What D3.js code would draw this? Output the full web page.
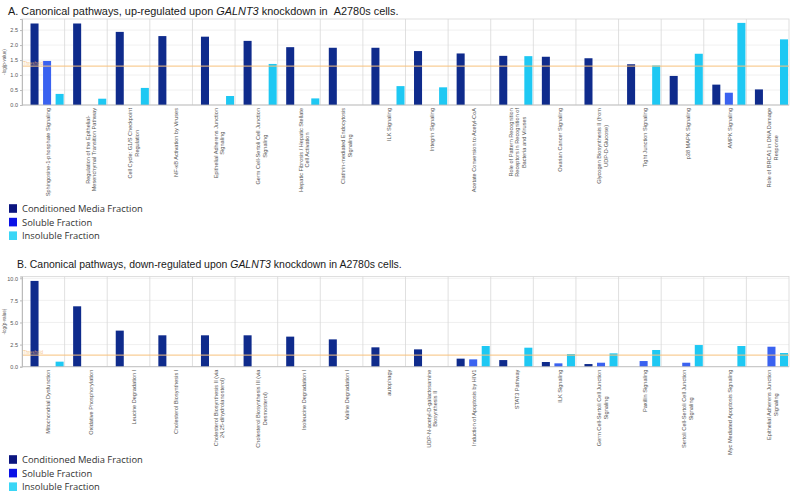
<!DOCTYPE html>
<html><head><meta charset="utf-8">
<script src="https://cdn.jsdelivr.net/npm/d3@7"></script>
<style>body{margin:0;background:#fff;} svg{display:block;}</style>
</head><body>
<svg id="chart" width="800" height="495"></svg>
<script>
// ---------- DATA ----------
const seriesNames = ["Conditioned Media Fraction", "Soluble Fraction", "Insoluble Fraction"];

const catsA = [
  "Sphingosine-1-phosphate Signaling",
  "Regulation of the Epithelial-\nMesenchymal Transition Pathway",
  "Cell Cycle: G1/S Checkpoint\nRegulation",
  "NF-κB Activation by Viruses",
  "Epithelial Adherens Junction\nSignaling",
  "Germ Cell-Sertoli Cell Junction\nSignaling",
  "Hepatic Fibrosis / Hepatic Stellate\nCell Activation",
  "Clathrin-mediated Endocytosis\nSignaling",
  "ILK Signaling",
  "Integrin Signaling",
  "Acetate Conversion to Acetyl-CoA",
  "Role of Pattern Recognition\nReceptors in Recognition of\nBacteria and Viruses",
  "Ovarian Cancer Signaling",
  "Glycogen Biosynthesis II (from\nUDP-D-Glucose)",
  "Tight Junction Signaling",
  "p38 MAPK Signaling",
  "AMPK Signaling",
  "Role of BRCA1 in DNA Damage\nResponse"
];
const condA  = [2.72, 2.72, 2.44, 2.30, 2.28, 2.14, 1.93, 1.91, 1.91, 1.80, 1.72, 1.64, 1.61, 1.56, 1.36, 0.97, 0.68, 0.52];
const solA   = [1.47, 0, 0, 0, 0, 0, 0, 0, 0, 0, 0, 0, 0, 0, 0, 0, 0.41, 0];
const insolA = [0.37, 0.21, 0.57, 0, 0.30, 1.37, 0.22, 0, 0.63, 0.59, 0, 1.63, 0, 0, 1.32, 1.71, 2.74, 2.19];
const ticksA = [0, 0.5, 1.0, 1.5, 2.0, 2.5];

const catsB = [
  "Mitochondrial Dysfunction",
  "Oxidative Phosphorylation",
  "Leucine Degradation I",
  "Cholesterol Biosynthesis I",
  "Cholesterol Biosynthesis II (via\n24,25-dihydrolanosterol)",
  "Cholesterol Biosynthesis III (via\nDesmosterol)",
  "Isoleucine Degradation I",
  "Valine Degradation I",
  "autophagy",
  "UDP-N-acetyl-D-galactosamine\nBiosynthesis II",
  "Induction of Apoptosis by HIV1",
  "STAT3 Pathway",
  "ILK Signaling",
  "Germ Cell-Sertoli Cell Junction\nSignaling",
  "Paxillin Signaling",
  "Sertoli Cell-Sertoli Cell Junction\nSignaling",
  "Myc Mediated Apoptosis Signaling",
  "Epithelial Adherens Junction\nSignaling"
];
const condB  = [9.70, 6.83, 4.08, 3.55, 3.55, 3.55, 3.40, 3.09, 2.19, 1.96, 0.91, 0.75, 0.53, 0.30, 0, 0, 0, 0];
const solB   = [0, 0, 0, 0, 0, 0, 0, 0, 0, 0, 0.83, 0, 0.38, 0.45, 0.64, 0.45, 0, 2.26];
const insolB = [0.57, 0, 0, 0, 0, 0, 0, 0, 0, 0, 2.34, 2.15, 1.43, 1.51, 1.89, 2.45, 2.34, 1.55];
const ticksB = [0, 2.5, 5.0, 7.5, 10.0];

const threshold = 1.3;

// ---------- STYLE ----------
const barColors = ["#0f2b8c", "#3a62f0", "#1ec8f3"];
const legendColors = ["#0b1580", "#0a12e6", "#3ad6f6"];

const svg = d3.select("#chart");

function drawPanel(o) {
  const g = svg.append("g");
  const x0 = d3.scaleBand().domain(d3.range(o.cats.length)).range([o.left, o.right]).paddingInner(0).paddingOuter(0);
  const gw = x0.bandwidth();
  const x1 = d3.scaleBand().domain(seriesNames).range([gw * 0.147, gw * 1.03]).paddingInner(0.36).paddingOuter(0.18);
  const y = d3.scaleLinear().domain([0, o.ymax]).range([o.bottom, o.top]);

  // title
  const t = g.append("text").attr("x", o.titleX).attr("y", o.titleY)
    .attr("font-family", "Liberation Sans, Arial, sans-serif").attr("font-size", 12).attr("fill", "#1a1a1a");
  t.append("tspan").text(o.titlePre);
  t.append("tspan").attr("font-style", "italic").text("GALNT3");
  t.append("tspan").text(o.titlePost);
  const tw = t.node().getComputedTextLength();
  t.attr("font-size", 12 * o.titleW / tw);

  // horizontal grid
  g.append("g").selectAll("line").data(o.ticks.filter(d => d > 0)).join("line")
    .attr("x1", o.left).attr("x2", o.right).attr("y1", d => y(d)).attr("y2", d => y(d))
    .attr("stroke", "#ececec").attr("stroke-width", 0.8);

  // vertical separators
  g.append("g").selectAll("line").data(d3.range(1, o.cats.length)).join("line")
    .attr("x1", d => x0(d)).attr("x2", d => x0(d)).attr("y1", o.top).attr("y2", o.bottom)
    .attr("stroke", "#d8d8d8").attr("stroke-width", 0.8);

  // frame
  g.append("rect").attr("x", o.left).attr("y", o.top).attr("width", o.right - o.left).attr("height", o.bottom - o.top)
    .attr("fill", "none").attr("stroke", "#d8d8d8").attr("stroke-width", 0.8);

  // bars
  const rows = o.cats.map((c, i) => ({ i, vals: [o.cond[i], o.sol[i], o.insol[i]] }));
  const grp = g.append("g").selectAll("g").data(rows).join("g")
    .attr("transform", d => `translate(${x0(d.i)},0)`);
  grp.selectAll("rect").data(d => d.vals.map((v, k) => ({ v, k }))).join("rect")
    .filter(d => d.v > 0)
    .attr("x", d => x1(seriesNames[d.k])).attr("width", x1.bandwidth())
    .attr("y", d => y(d.v)).attr("height", d => y(0) - y(d.v))
    .attr("fill", d => barColors[d.k]);

  // threshold
  g.append("line").attr("x1", o.left).attr("x2", o.right).attr("y1", y(threshold)).attr("y2", y(threshold))
    .attr("stroke", "#f9c27c").attr("stroke-width", 1.3).attr("opacity", 0.8);
  g.append("text").attr("x", o.left + 1).attr("y", y(threshold) - 1.2)
    .attr("font-family", "Liberation Sans, Arial, sans-serif").attr("font-size", 4.5).attr("fill", "#f5b86a")
    .attr("opacity", 0.8).text("Threshold");

  // y axis
  const ya = g.append("g").attr("transform", `translate(${o.left},0)`)
    .call(d3.axisLeft(y).tickValues(o.ticks).tickFormat(d3.format(".1f")).tickSize(2).tickPadding(2));
  ya.select(".domain").attr("stroke", "#bbb");
  ya.selectAll(".tick line").attr("stroke", "#bbb");
  ya.selectAll("text").attr("font-family", "Liberation Sans, Arial, sans-serif").attr("font-size", 5.5).attr("fill", "#555");

  // x axis line
  g.append("line").attr("x1", o.left).attr("x2", o.right).attr("y1", y(0)).attr("y2", y(0))
    .attr("stroke", "#bbb").attr("stroke-width", 0.8);

  // y label
  g.append("text").attr("transform", `translate(6,${(o.top + o.bottom) / 2}) rotate(-90)`)
    .attr("text-anchor", "middle").attr("font-family", "Liberation Sans, Arial, sans-serif")
    .attr("font-size", 4.6).attr("fill", "#555").text("-log(p-value)");

  // category labels
  const fs = 5.6, lh = 6.6;
  o.cats.forEach((c, i) => {
    const lines = c.split("\n");
    const cx = x0(i) + gw * 0.62;
    const lab = g.append("text").attr("font-family", "Liberation Sans, Arial, sans-serif")
      .attr("font-size", fs).attr("fill", "#555").attr("text-anchor", "middle");
    lines.forEach((l, k) => lab.append("tspan").attr("x", 0).attr("y", (k - (lines.length - 1) / 2) * lh + fs * 0.35).text(l));
    let maxL = 0;
    lab.selectAll("tspan").each(function () { maxL = Math.max(maxL, this.getComputedTextLength()); });
    lab.attr("transform", `translate(${cx},${o.bottom + 3 + maxL / 2}) rotate(-90)`);
  });

  // legend
  const lg = g.append("g").selectAll("g").data(seriesNames).join("g")
    .attr("transform", (d, k) => `translate(9,${o.legendY + k * 13.6})`);
  lg.append("rect").attr("x", 0).attr("y", -4.3).attr("width", 8).attr("height", 8.6).attr("fill", (d, k) => legendColors[k]);
  lg.append("text").attr("x", 13).attr("y", 3.4).attr("font-family", "Open Sans, Noto Sans, sans-serif")
    .attr("font-size", 9.4).attr("fill", "#333").text(d => d);
}

drawPanel({
  cats: catsA, cond: condA, sol: solA, insol: insolA, ticks: ticksA, ymax: 2.87,
  left: 22, right: 789, top: 19, bottom: 105,
  titleX: 8, titleY: 15, titleW: 391,
  titlePre: "A. Canonical pathways, up-regulated upon ", titlePost: " knockdown in \u00a0A2780s cells.",
  legendY: 208.5
});

drawPanel({
  cats: catsB, cond: condB, sol: solB, insol: insolB, ticks: ticksB, ymax: 10.2,
  left: 22, right: 789, top: 276.5, bottom: 366.7,
  titleX: 17, titleY: 267.5, titleW: 385,
  titlePre: "B. Canonical pathways, down-regulated upon ", titlePost: " knockdown in A2780s cells.",
  legendY: 459.5
});
</script>
</body></html>
